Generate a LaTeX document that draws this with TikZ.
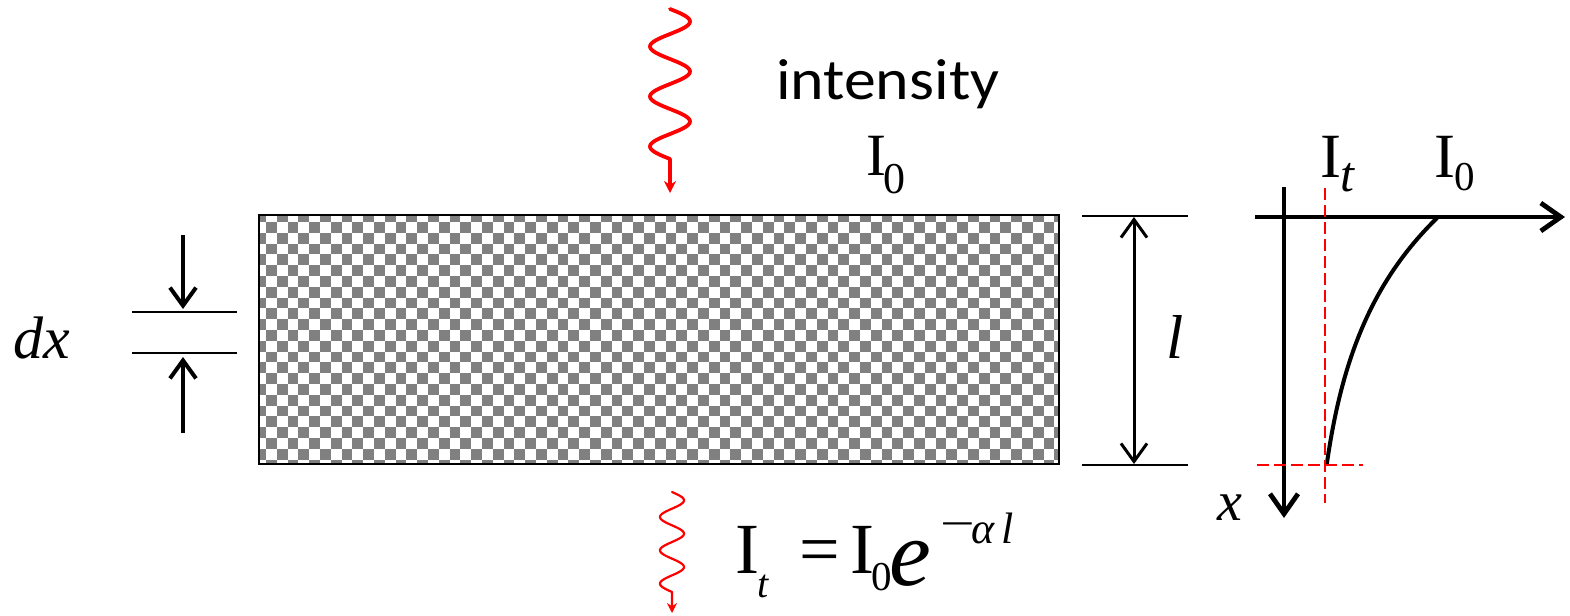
\documentclass[tikz,border=0pt]{standalone}
\usepackage{fontspec}
\newfontfamily\tms{Liberation Serif}
\newfontfamily\calib{Carlito}
\usetikzlibrary{arrows.meta}
\begin{document}
\begin{tikzpicture}[x=0.5pt,y=-0.5pt,
  lbl/.style={anchor=base west, inner sep=0pt, outer sep=0pt},
  barb/.style={-{Straight Barb[length=9pt,width=13pt]}},
  dbarb/.style={{Straight Barb[length=9pt,width=13pt]}-{Straight Barb[length=9pt,width=13pt]}},
  axbarb/.style={-{Straight Barb[length=10pt,width=14pt]}},
  dimline/.style={line width=1pt},
  wave/.style={red, line cap=round, line join=round},
  dashref/.style={red, line width=0.6pt, dash pattern=on 6pt off 2.5pt}]
\useasboundingbox (0,0) rectangle (1570,616);

% ---------- slab with checker pattern
\coordinate (slabNW) at (259,215);
\coordinate (slabSE) at (1059,464);
\begin{scope}
\clip (slabNW) rectangle (slabSE);
\foreach \r in {0,...,23}{
  \foreach \c in {0,2,...,74}{
    \fill[black!50] ({255.2+10.8*(\c+mod(\r,2))},{211.2+10.8*\r}) rectangle ++(10.8,10.8);
  }
}
\end{scope}
\draw[line width=1.2pt] (slabNW) rectangle (slabSE);

% ---------- incident wave
\coordinate (wtopEnd) at (670,193);
\draw[wave, line width=1.9pt, -{Stealth[length=6pt,width=6pt]}]
  plot[domain=0:150, samples=121, variable=\t] ({670+20*sin(7.2*\t)},{9+\t}) -- (wtopEnd);
% ---------- transmitted wave
\coordinate (wbotEnd) at (672,613);
\draw[wave, line width=1.1pt, -{Stealth[length=5pt,width=5pt]}]
  plot[domain=0:100, samples=121, variable=\t] ({672+12*sin(10.8*\t)},{492+\t}) -- (wbotEnd);

% ---------- labels top
\node[lbl] (inten) at (776,99) {\calib\fontsize{29}{32}\selectfont\scalebox{1.1}[1]{intensity}};
\node[lbl] (topI) at (866,175) {\tms\fontsize{30}{32}\selectfont I};
\node[lbl] (top0) at (883,193) {\tms\fontsize{22}{24}\selectfont 0};

% ---------- formula
\node[lbl] (fI1) at (735,573) {\tms\fontsize{36}{40}\selectfont I};
\node[lbl] (ft) at (757,597) {\tms\itshape\fontsize{20}{22}\selectfont t};
\node[lbl] (feq) at (799,573) {\tms\fontsize{36}{40}\selectfont =};
\node[lbl] (fI2) at (850,573) {\tms\fontsize{36}{40}\selectfont I};
\node[lbl] (f0) at (871,590) {\tms\fontsize{20.5}{22}\selectfont 0};
\node[lbl] (fe) at (889,585) {\tms\itshape\fontsize{47}{50}\selectfont e};
\node[lbl] (fmin) at (940,538) {\tms\fontsize{22}{24}\selectfont\scalebox{1.4}[1]{−}};
\node[lbl] (falpha) at (971,543) {\tms\itshape\fontsize{22}{24}\selectfont α};
\node[lbl] (fl) at (1001,543) {\tms\itshape\fontsize{22}{24}\selectfont l};

% ---------- dx marker
\node[lbl] (dx) at (13,358) {\tms\itshape\fontsize{30}{32}\selectfont dx};
\coordinate (dxL1a) at (132,312); \coordinate (dxL1b) at (237,312);
\coordinate (dxL2a) at (132,353); \coordinate (dxL2b) at (237,353);
\draw[line width=1.1pt] (dxL1a) -- (dxL1b);
\draw[line width=1.1pt] (dxL2a) -- (dxL2b);
\coordinate (dxA0) at (183,235); \coordinate (dxA1) at (183,309);
\coordinate (dxB0) at (183,433); \coordinate (dxB1) at (183,357);
\draw[line width=2pt, barb] (dxA0) -- (dxA1);
\draw[line width=2pt, barb] (dxB0) -- (dxB1);

% ---------- thickness l
\coordinate (lT1) at (1082,216); \coordinate (lT2) at (1188,216);
\coordinate (lB1) at (1082,465); \coordinate (lB2) at (1188,465);
\draw[dimline] (lT1) -- (lT2);
\draw[dimline] (lB1) -- (lB2);
\coordinate (lA) at (1134,217); \coordinate (lB) at (1134,464);
\draw[line width=1.5pt, dbarb] (lA) -- (lB);
\node[lbl] (llab) at (1166,358) {\tms\itshape\fontsize{31}{34}\selectfont l};

% ---------- graph
\coordinate (vax0) at (1284,187); \coordinate (vax1) at (1284,518);
\coordinate (hax0) at (1255,217); \coordinate (hax1) at (1565,217);
\draw[line width=2.4pt, axbarb] (vax0) -- (vax1);
\draw[line width=2.4pt, axbarb] (hax0) -- (hax1);
\draw[line width=2pt] plot[domain=0:246, samples=60, variable=\t]
  ({1308.9+128.1*exp(-0.008*\t)},{218+\t});
\coordinate (dv0) at (1325,188); \coordinate (dv1) at (1325,503);
\coordinate (dh0) at (1257,465); \coordinate (dh1) at (1363,465);
\draw[dashref] (dv0) -- (dv1);
\draw[dashref] (dh0) -- (dh1);
\node[lbl] (gI1) at (1320,177) {\tms\fontsize{31.5}{34}\selectfont I};
\node[lbl] (gt) at (1340,191) {\tms\itshape\fontsize{25}{28}\selectfont t};
\node[lbl] (gI2) at (1434,177) {\tms\fontsize{31.5}{34}\selectfont I};
\node[lbl] (g0) at (1454,190) {\tms\fontsize{20.5}{22}\selectfont 0};
\node[lbl] (gx) at (1217,520) {\tms\itshape\fontsize{28}{30}\selectfont x};
\end{tikzpicture}
\end{document}
